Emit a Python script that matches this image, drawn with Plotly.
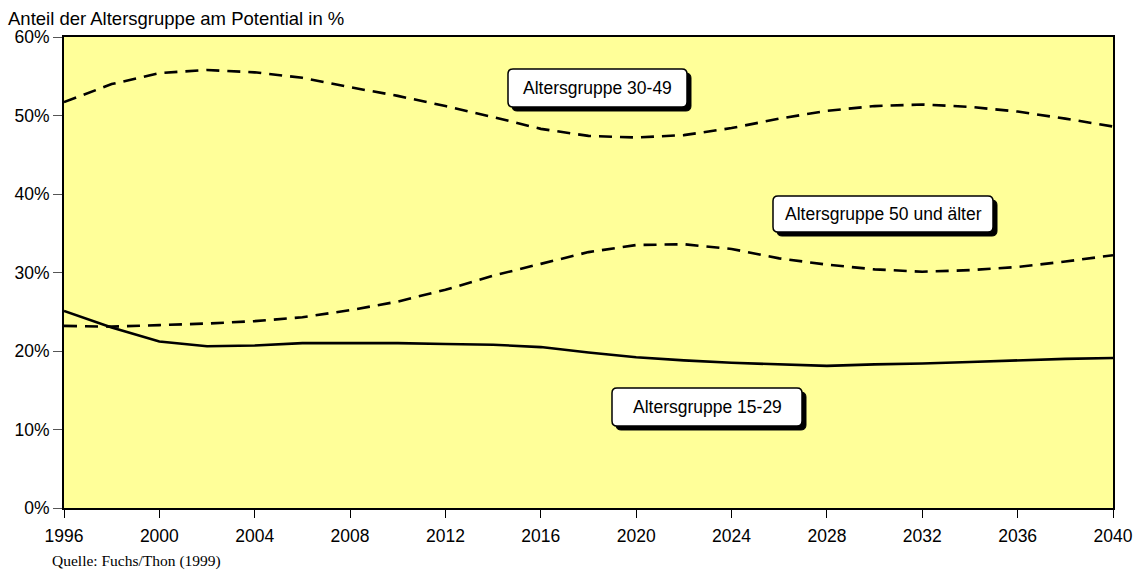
import plotly.graph_objects as go

years = [1996, 1998, 2000, 2002, 2004, 2006, 2008, 2010, 2012, 2014, 2016, 2018,
         2020, 2022, 2024, 2026, 2028, 2030, 2032, 2034, 2036, 2038, 2040]
age_30_49 = [51.7, 54.0, 55.4, 55.8, 55.5, 54.8, 53.6, 52.5, 51.2, 49.8, 48.3, 47.4,
             47.2, 47.5, 48.4, 49.6, 50.6, 51.2, 51.4, 51.1, 50.5, 49.6, 48.6]
age_50_plus = [23.2, 23.1, 23.3, 23.5, 23.8, 24.3, 25.2, 26.3, 27.8, 29.6, 31.1, 32.6,
               33.5, 33.6, 33.0, 31.8, 31.0, 30.4, 30.1, 30.3, 30.7, 31.4, 32.2]
age_15_29 = [25.1, 23.0, 21.2, 20.6, 20.7, 21.0, 21.0, 21.0, 20.9, 20.8, 20.5, 19.8,
             19.2, 18.8, 18.5, 18.3, 18.1, 18.3, 18.4, 18.6, 18.8, 19.0, 19.1]
x_ticks = [1996, 2000, 2004, 2008, 2012, 2016, 2020, 2024, 2028, 2032, 2036, 2040]
y_ticks = [0, 10, 20, 30, 40, 50, 60]
y_title = "Anteil der Altersgruppe am Potential in %"
source = "Quelle: Fuchs/Thon (1999)"
labels = ["Altersgruppe 30-49", "Altersgruppe 50 und älter", "Altersgruppe 15-29"]

W, H = 1136, 576
L, R, T, B = 64, 23, 37, 68
PW, PH = W - L - R, H - T - B

def px(x):
    return (x - L) / PW

def py(y):
    return (H - B - y) / PH

def rrect(x0, y0, x1, y1, r=5):
    def P(x, y):
        return f"{px(x):.5f},{py(y):.5f}"
    return (f"M {P(x0 + r, y0)} L {P(x1 - r, y0)} Q {P(x1, y0)} {P(x1, y0 + r)} "
            f"L {P(x1, y1 - r)} Q {P(x1, y1)} {P(x1 - r, y1)} "
            f"L {P(x0 + r, y1)} Q {P(x0, y1)} {P(x0, y1 - r)} "
            f"L {P(x0, y0 + r)} Q {P(x0, y0)} {P(x0 + r, y0)} Z")

fig = go.Figure()
line_common = dict(color="black", width=2.6)
fig.add_trace(go.Scatter(x=years, y=age_30_49, mode="lines",
                         line=dict(**line_common, dash="13px,8px"), showlegend=False))
fig.add_trace(go.Scatter(x=years, y=age_50_plus, mode="lines",
                         line=dict(**line_common, dash="13px,8px"), showlegend=False))
fig.add_trace(go.Scatter(x=years, y=age_15_29, mode="lines",
                         line=dict(**line_common), showlegend=False))

boxes = [(508, 69, 687, 107), (773, 196, 993, 232), (612, 388, 802, 426)]
shapes = []
annotations = []
for (x0, y0, x1, y1), lab in zip(boxes, labels):
    shapes.append(dict(type="path", xref="paper", yref="paper",
                       path=rrect(x0 + 4, y0 + 4, x1 + 4, y1 + 4),
                       fillcolor="black", line=dict(color="black", width=1)))
    shapes.append(dict(type="path", xref="paper", yref="paper",
                       path=rrect(x0, y0, x1, y1),
                       fillcolor="white", line=dict(color="black", width=1.5)))
    annotations.append(dict(xref="paper", yref="paper", x=px((x0 + x1) / 2),
                            y=py((y0 + y1) / 2), text=lab, showarrow=False,
                            xanchor="center", yanchor="middle",
                            font=dict(family="Liberation Sans, Arial", size=17.5, color="black")))

annotations.append(dict(xref="paper", yref="paper", x=px(6), y=py(18), text=y_title,
                        showarrow=False, xanchor="left", yanchor="middle",
                        font=dict(family="Liberation Sans, Arial", size=18.5, color="black")))
annotations.append(dict(xref="paper", yref="paper", x=px(50), y=py(561), text=source,
                        showarrow=False, xanchor="left", yanchor="middle",
                        font=dict(family="Liberation Serif, Times New Roman", size=15.5, color="black")))

fig.update_layout(
    width=W, height=H,
    margin=dict(l=L, r=R, t=T, b=B, autoexpand=False),
    paper_bgcolor="white",
    plot_bgcolor="#FFFF99",
    font=dict(family="Liberation Sans, Arial", size=17.5, color="black"),
    shapes=shapes,
    annotations=annotations,
    xaxis=dict(range=[1996, 2040], tickvals=x_ticks, ticktext=[str(v) for v in x_ticks],
               showgrid=False, zeroline=False, showline=True, linecolor="black",
               linewidth=2, mirror=True, ticks="outside", ticklen=8, tickcolor="black",
               tickwidth=1, tickfont=dict(size=17.5), automargin=False,
               ticklabelstandoff=3),
    yaxis=dict(range=[0, 60], tickvals=y_ticks, ticktext=[f"{v}%" for v in y_ticks],
               showgrid=False, zeroline=False, showline=True, linecolor="black",
               linewidth=2, mirror=True, ticks="outside", ticklen=9, tickcolor="#555555",
               tickwidth=1, tickfont=dict(size=17.5), automargin=False),
)

fig.write_html("out.html")
